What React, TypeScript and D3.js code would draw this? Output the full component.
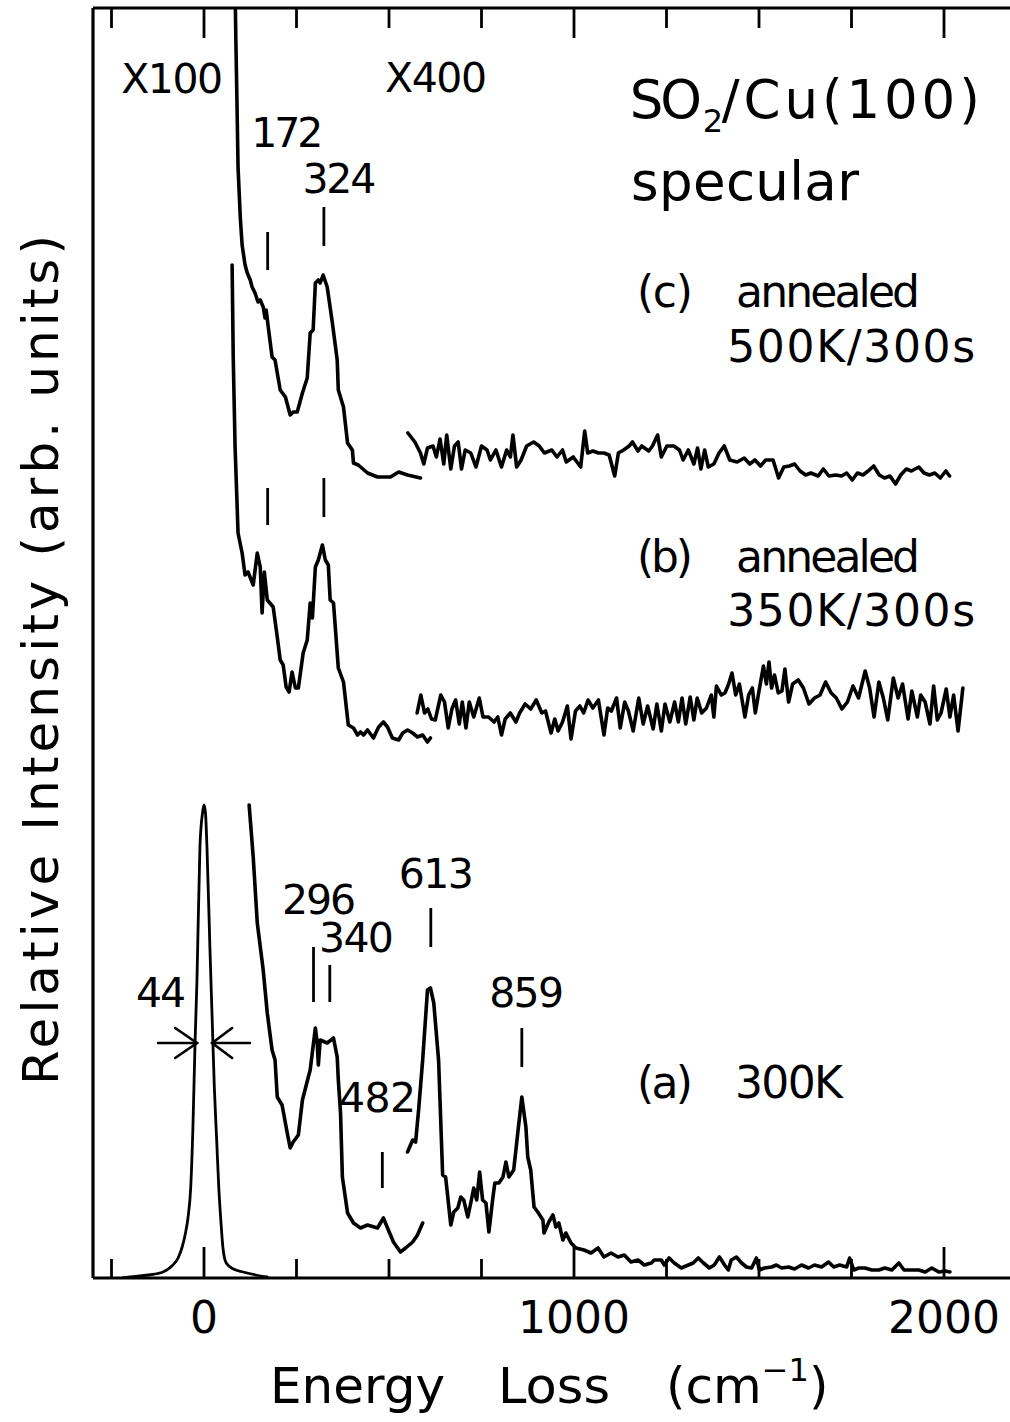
import React from "react";
import * as d3 from "d3";

type Pt = [number, number];

// ---------- axis definition ----------
const X_DOMAIN: [number, number] = [-300, 2180];
const Y_DOMAIN: [number, number] = [0, 1270];
const xTicksMinor = [-250, 250, 500, 750, 1250, 1500, 1750];
const xTicksMajor = [0, 1000, 2000];
const xTickLabels = ["0", "1000", "2000"];

// ---------- spectra (energy cm^-1, intensity arb. units) ----------
const elasticPeak: Pt[] = [
  [-220, 0], [-200, 1], [-150, 3], [-111, 6], [-84, 13], [-70, 20], [-59, 31], [-50, 45], [-43, 61],
  [-36, 90], [-30, 150], [-24, 238], [-19, 298], [-11, 431], [-4, 465], [0, 473], [4, 465],
  [8, 431], [16, 330], [22, 260], [28, 190], [34, 140], [40, 90], [46, 55], [51, 31], [60, 15],
  [80, 9], [106, 6], [140, 3], [171, 1],
];

const spectrumA_low: Pt[] = [
  [122, 473], [133, 421], [144, 355], [160, 308], [171, 265], [184, 228], [192, 218], [198, 181],
  [211, 173], [225, 145], [233, 130], [241, 136], [255, 143], [266, 178], [282, 201], [287, 208],
  [301, 250], [306, 235], [309, 213], [314, 238], [333, 235], [350, 240], [360, 221], [363, 198],
  [369, 165], [374, 101], [388, 65], [404, 55], [423, 50], [442, 53], [469, 50], [485, 60],
  [496, 50], [512, 36], [531, 26], [545, 30], [564, 36], [577, 43], [591, 55],
];

const spectrumA_high: Pt[] = [
  [550, 126], [564, 138], [572, 136], [580, 168], [591, 218], [604, 288], [612, 290], [621, 275],
  [634, 218], [645, 103], [653, 101], [667, 53], [675, 66], [686, 70], [694, 81], [702, 78],
  [713, 61], [721, 75], [729, 90], [737, 78], [745, 106], [753, 78], [762, 75], [770, 46],
  [780, 78], [786, 95], [797, 95], [808, 101], [816, 116], [824, 101], [837, 108], [848, 145],
  [859, 181], [870, 151], [875, 121], [883, 108], [892, 71], [902, 66], [916, 58], [919, 45],
  [932, 56], [943, 63], [951, 51], [959, 55], [970, 38], [978, 45], [992, 35], [1005, 30],
  [1027, 28], [1046, 25], [1065, 30], [1081, 21], [1100, 25], [1119, 21], [1136, 23], [1154, 16],
  [1173, 18], [1190, 13], [1209, 15], [1217, 18], [1236, 18], [1244, 13], [1257, 20], [1271, 15],
  [1290, 10], [1309, 13], [1322, 15], [1336, 20], [1350, 15], [1366, 10], [1379, 13], [1393, 21],
  [1407, 13], [1417, 8], [1425, 18], [1439, 21], [1453, 15], [1466, 11], [1480, 10], [1493, 20],
  [1501, 8], [1515, 10], [1534, 11], [1547, 13], [1561, 10], [1580, 11], [1596, 9], [1615, 13],
  [1634, 10], [1650, 13], [1669, 11], [1688, 16], [1702, 11], [1718, 13], [1737, 11], [1745, 20],
  [1756, 8], [1770, 10], [1786, 10], [1805, 8], [1824, 8], [1840, 10], [1859, 8], [1878, 15],
  [1892, 8], [1913, 8], [1932, 8], [1949, 6], [1967, 10], [1986, 6], [2003, 7], [2016, 6],
];

const spectrumB_low: Pt[] = [
  [76, 1013], [79, 921], [84, 831], [89, 778], [92, 745], [103, 725], [111, 703], [119, 706],
  [133, 693], [144, 725], [152, 711], [157, 665], [163, 706], [171, 678], [187, 671], [198, 641],
  [206, 618], [214, 613], [222, 591], [230, 586], [238, 606], [247, 590], [255, 590], [268, 625],
  [279, 638], [287, 675], [293, 660], [301, 711], [309, 718], [320, 733], [328, 718], [336, 713],
  [341, 678], [350, 675], [363, 610], [377, 596], [390, 553], [404, 550], [415, 543], [423, 546],
  [431, 543], [442, 548], [458, 540], [472, 551], [485, 556], [496, 551], [509, 540], [526, 538],
  [537, 545], [550, 548], [564, 545], [577, 541], [591, 543], [604, 536], [612, 540],
];

const spectrumB_high: Pt[] = [
  [576, 565], [586, 583], [596, 565], [605, 569], [615, 559], [625, 558], [640, 583], [650, 576],
  [660, 550], [670, 569], [680, 578], [690, 554], [698, 576], [708, 550], [717, 576], [729, 561],
  [744, 580], [754, 561], [769, 561], [784, 556], [794, 561], [804, 543], [814, 559], [828, 565],
  [843, 556], [853, 565], [868, 574], [883, 569], [898, 578], [913, 565], [923, 567], [938, 545],
  [948, 559], [957, 547], [969, 556], [982, 572], [992, 539], [1004, 567], [1016, 572], [1026, 565],
  [1038, 578], [1051, 570], [1066, 578], [1081, 543], [1091, 570], [1101, 567], [1115, 580],
  [1125, 550], [1137, 576], [1147, 567], [1160, 547], [1175, 580], [1187, 554], [1199, 572],
  [1214, 549], [1224, 574], [1236, 547], [1246, 574], [1259, 556], [1272, 576], [1282, 556],
  [1292, 580], [1302, 554], [1314, 581], [1324, 558], [1333, 580], [1345, 565], [1358, 570],
  [1371, 583], [1378, 561], [1385, 592], [1398, 583], [1408, 585], [1418, 594], [1427, 605],
  [1437, 583], [1447, 594], [1462, 561], [1472, 583], [1482, 590], [1490, 565], [1500, 587],
  [1512, 612], [1520, 594], [1527, 616], [1534, 590], [1542, 603], [1552, 585], [1562, 587],
  [1570, 609], [1580, 576], [1591, 594], [1606, 598], [1620, 590], [1635, 574], [1650, 580],
  [1665, 583], [1680, 596], [1695, 585], [1709, 580], [1724, 569], [1739, 576], [1754, 592],
  [1769, 580], [1787, 607], [1799, 590], [1811, 561], [1824, 596], [1836, 580], [1848, 558],
  [1863, 600], [1876, 580], [1888, 594], [1903, 559], [1913, 587], [1928, 561], [1937, 583],
  [1949, 576], [1962, 554], [1972, 592], [1982, 558], [1992, 565], [2006, 589], [2016, 561],
  [2026, 583], [2038, 547], [2051, 590],
];

const spectrumC_low: Pt[] = [
  [84, 1290], [86, 1240], [89, 1178], [92, 1111], [98, 1061], [103, 1033], [111, 1013], [117, 1005],
  [125, 998], [130, 991], [138, 985], [146, 976], [152, 978], [160, 971], [165, 960], [168, 968],
  [173, 953], [184, 921], [192, 918], [206, 888], [220, 881], [233, 863], [241, 866], [252, 866],
  [266, 885], [279, 900], [287, 945], [295, 948], [301, 995], [309, 998], [314, 995], [322, 1003],
  [333, 991], [347, 955], [360, 918], [363, 888], [377, 871], [388, 835], [401, 828], [404, 815],
  [417, 813], [442, 805], [469, 801], [504, 801], [526, 806], [550, 803], [585, 800],
];

const spectrumC_high: Pt[] = [
  [551, 845], [570, 836], [585, 825], [594, 814], [604, 830], [619, 832], [628, 821], [638, 839],
  [648, 814], [656, 843], [667, 809], [677, 832], [687, 836], [696, 809], [706, 828], [721, 825],
  [735, 811], [750, 832], [765, 828], [774, 818], [789, 828], [804, 811], [818, 828], [828, 821],
  [835, 843], [845, 811], [857, 818], [872, 832], [891, 836], [906, 832], [920, 825], [940, 828],
  [954, 821], [969, 828], [979, 816], [998, 821], [1018, 811], [1029, 847], [1037, 825], [1051, 827],
  [1066, 825], [1081, 825], [1095, 823], [1110, 802], [1120, 825], [1134, 828], [1149, 832],
  [1158, 836], [1173, 827], [1183, 832], [1202, 827], [1212, 832], [1226, 843], [1236, 821],
  [1251, 832], [1270, 832], [1285, 828], [1295, 818], [1309, 828], [1324, 814], [1334, 830],
  [1343, 809], [1353, 828], [1363, 811], [1378, 814], [1392, 825], [1406, 832], [1421, 818],
  [1441, 816], [1460, 820], [1475, 814], [1489, 818], [1504, 812], [1518, 818], [1538, 818],
  [1553, 800], [1567, 811], [1582, 812], [1596, 814], [1611, 807], [1626, 803], [1640, 805],
  [1660, 802], [1674, 809], [1689, 802], [1708, 803], [1723, 802], [1737, 805], [1752, 798],
  [1766, 805], [1781, 803], [1795, 807], [1810, 812], [1825, 803], [1839, 800], [1854, 802],
  [1869, 794], [1883, 803], [1898, 809], [1912, 807], [1932, 811], [1946, 805], [1961, 803],
  [1975, 805], [1990, 800], [2005, 807], [2015, 802],
];

const spectra: { name: string; pts: Pt[]; thin?: boolean }[] = [
  { name: "a-elastic", pts: elasticPeak, thin: true },
  { name: "a-x400-low", pts: spectrumA_low },
  { name: "a-x400-high", pts: spectrumA_high },
  { name: "b-low", pts: spectrumB_low },
  { name: "b-high", pts: spectrumB_high },
  { name: "c-low", pts: spectrumC_low },
  { name: "c-high", pts: spectrumC_high },
];

// ---------- peak marks (energy, intensity range) ----------
const peakMarkEnergies = [172, 324, 172, 324, 296, 340, 482, 613, 859];
const peakMarkLow = [1008, 1032, 753, 761, 276, 276, 90, 331, 211];
const peakMarkHigh = [1046, 1071, 790, 800, 331, 313, 126, 370, 250];

// ---------- peak labels ----------
const peakLabelText = ["172", "324", "296", "340", "44", "482", "613", "859", "X100", "X400"];
const peakLabelE = [225, 366, 311, 412, -116, 469, 628, 872, -86, 627];
const peakLabelI = [1131, 1085, 364, 326, 271, 166, 390, 271, 1185, 1186];
const peakLabelLen = [72, 74, 74, 75, 50, 77, 75, 75, 102, 102];

// ---------- condition annotations ----------
const annText = ["(c)", "annealed", "500K/300s", "(b)", "annealed", "350K/300s", "(a)", "300K"];
const annE = [1170, 1438, 1414, 1170, 1438, 1414, 1170, 1435];
const annI = [971, 971, 916, 706, 706, 652, 180, 180];
const annLen = [56, 184, 248, 56, 184, 248, 56, 108];

// FWHM arrows (energy positions at half maximum)
const fwhmLevel = 235;
const fwhmLeft = [-124, -19];
const fwhmRight = [124, 22];
const arrowBackE = [-78, 76];
const arrowArm = 15;

const FONT = "'DejaVu Sans', 'Open Sans', sans-serif";

export default function App() {
  const W = 1010;
  const H = 1422;
  const left = 93;
  const top = 8;
  const bottom = 1278;
  const right = left + (X_DOMAIN[1] - X_DOMAIN[0]) * 0.37;

  const x = d3.scaleLinear().domain(X_DOMAIN).range([left, right]);
  const y = d3.scaleLinear().domain(Y_DOMAIN).range([bottom, top]);

  const line = d3
    .line<Pt>()
    .x((d) => x(d[0]))
    .y((d) => y(d[1]))
    .curve(d3.curveLinear);

  const elasticLine = d3
    .line<Pt>()
    .x((d) => x(d[0]))
    .y((d) => y(d[1]))
    .curve(d3.curveMonotoneX);

  const ax = (e: number) => x(e);

  return (
    <svg
      width={W}
      height={H}
      viewBox={`0 0 ${W} ${H}`}
      style={{ position: "absolute", left: 0, top: 0, background: "#fff" }}
      fontFamily={FONT}
    >
      <defs>
        <clipPath id="plotClip">
          <rect x={left} y={top} width={right - left} height={bottom - top} />
        </clipPath>
      </defs>
      <rect x={0} y={0} width={W} height={H} fill="#fff" />

      {/* spectra */}
      <g clipPath="url(#plotClip)" fill="none" stroke="#000" strokeLinejoin="round" strokeLinecap="round">
        {spectra.map((s) => (
          <path
            key={s.name}
            d={(s.thin ? elasticLine : line)(s.pts) || ""}
            strokeWidth={s.thin ? 2.8 : 3.6}
          />
        ))}
      </g>

      {/* peak markers */}
      <g stroke="#000" strokeWidth={2.8}>
        {peakMarkEnergies.map((e, i) => (
          <line key={i} x1={ax(e)} x2={ax(e)} y1={y(peakMarkLow[i])} y2={y(peakMarkHigh[i])} />
        ))}
      </g>

      {/* FWHM arrows */}
      <g stroke="#000" strokeWidth={2.6} fill="none" strokeLinecap="round">
        <line x1={ax(fwhmLeft[0])} x2={ax(fwhmLeft[1])} y1={y(fwhmLevel)} y2={y(fwhmLevel)} />
        <polyline
          points={`${ax(arrowBackE[0])},${y(fwhmLevel + arrowArm)} ${ax(fwhmLeft[1])},${y(fwhmLevel)} ${ax(arrowBackE[0])},${y(fwhmLevel - arrowArm)}`}
        />
        <line x1={ax(fwhmRight[0])} x2={ax(fwhmRight[1])} y1={y(fwhmLevel)} y2={y(fwhmLevel)} />
        <polyline
          points={`${ax(arrowBackE[1])},${y(fwhmLevel + arrowArm)} ${ax(fwhmRight[1])},${y(fwhmLevel)} ${ax(arrowBackE[1])},${y(fwhmLevel - arrowArm)}`}
        />
      </g>

      {/* frame */}
      <g stroke="#000" strokeWidth={3.2} fill="none">
        <line x1={left} x2={right} y1={bottom} y2={bottom} />
        <line x1={left} x2={right} y1={top} y2={top} />
        <line x1={left} x2={left} y1={top} y2={bottom} />
      </g>

      {/* ticks */}
      <g stroke="#000" strokeWidth={2.8}>
        {xTicksMinor.map((t) => (
          <g key={"m" + t}>
            <line x1={x(t)} x2={x(t)} y1={bottom} y2={bottom - 19} />
            <line x1={x(t)} x2={x(t)} y1={top} y2={top + 20} />
          </g>
        ))}
        {xTicksMajor.map((t) => (
          <g key={"M" + t}>
            <line x1={x(t)} x2={x(t)} y1={bottom} y2={bottom - 31} />
            <line x1={x(t)} x2={x(t)} y1={top} y2={top + 30} />
          </g>
        ))}
      </g>

      {/* tick labels */}
      <g fontSize={44} textAnchor="middle" fill="#000">
        {xTicksMajor.map((t, i) => (
          <text key={t} x={x(t)} y={1333}>
            {xTickLabels[i]}
          </text>
        ))}
      </g>

      {/* axis titles */}
      <text x={270} y={1403} fontSize={50} textLength={175} lengthAdjust="spacingAndGlyphs">
        Energy
      </text>
      <text x={498} y={1403} fontSize={50} textLength={112} lengthAdjust="spacingAndGlyphs">
        Loss
      </text>
      <text x={666} y={1403} fontSize={50}>
        (cm
        <tspan fontSize={32} dy={-22}>
          −1
        </tspan>
        <tspan dy={22}>)</tspan>
      </text>
      <text
        transform={`translate(58, 1085) rotate(-90)`}
        x={0}
        y={0}
        fontSize={50}
        textLength={850}
        lengthAdjust="spacing"
      >
        Relative Intensity (arb. units)
      </text>

      {/* peak labels */}
      <g fontSize={41} textAnchor="middle" fill="#000">
        {peakLabelText.map((t, i) => (
          <text key={i} x={x(peakLabelE[i])} y={y(peakLabelI[i])} textLength={peakLabelLen[i]} lengthAdjust="spacing">
            {t}
          </text>
        ))}
      </g>

      {/* title */}
      <g fill="#000">
        <text x={x(1151)} y={y(1160)} fontSize={53} textLength={72} lengthAdjust="spacing">
          SO
        </text>
        <text x={x(1151) + 73} y={y(1160) + 14} fontSize={32}>
          2
        </text>
        <text x={x(1151) + 92} y={y(1160)} fontSize={53} textLength={258} lengthAdjust="spacing">
          /Cu(100)
        </text>
        <text x={x(1154)} y={y(1078)} fontSize={53} textLength={228} lengthAdjust="spacing">
          specular
        </text>
      </g>

      {/* condition annotations */}
      <g fontSize={44} fill="#000">
        {annText.map((t, i) => (
          <text key={i} x={x(annE[i])} y={y(annI[i])} textLength={annLen[i]} lengthAdjust="spacing">
            {t}
          </text>
        ))}
      </g>
    </svg>
  );
}
